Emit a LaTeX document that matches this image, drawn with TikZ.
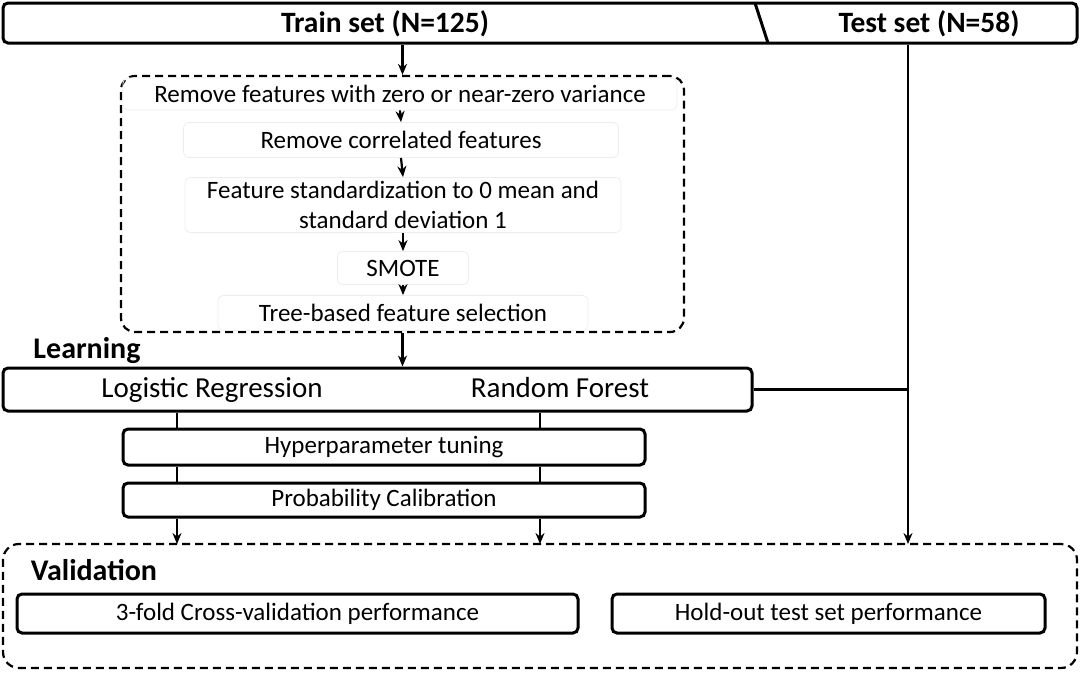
\documentclass[tikz,border=0pt]{standalone}
\usepackage{fontspec}
\setmainfont{Carlito}
\usetikzlibrary{arrows.meta}
\begin{document}
\begin{tikzpicture}[x=1pt,y=-1pt,
  bar/.style={draw,line width=3pt,rounded corners=5pt,inner sep=0pt},
  faint/.style={draw=black!7,line width=0.8pt,rounded corners=5pt,inner sep=0pt,align=center,font=\fontsize{25}{30}\selectfont},
  group/.style={draw,line width=2.2pt,dash pattern=on 8pt off 5pt,rounded corners=14pt,inner sep=0pt},
  title/.style={font=\fontsize{29.5}{34}\selectfont\bfseries},
  head/.style={font=\fontsize{30}{34}\selectfont\bfseries},
  txt/.style={font=\fontsize{25}{30}\selectfont},
  big/.style={font=\fontsize{29}{34}\selectfont,text height=19pt,text depth=6pt},
  arr/.style={line width=2.2pt,-{Stealth[length=11pt,width=9pt]}},
  link/.style={line width=2.2pt}]
\useasboundingbox (0,0) rectangle (1080,675);
\node[bar,minimum width=1074,minimum height=40] (data) at (540,23) {};
\draw[line width=3pt] (755,3) -- (768,43);
\node[title] (train) at (385,24) {Train set (N=125)};
\node[title] (test) at (929,24) {Test set (N=58)};

\node[group,minimum width=563,minimum height=256] (prep) at (402.5,204) {};
\node[faint,minimum width=554,minimum height=32] (r1) at (400,94) {Remove features with zero or near-zero variance};
\node[faint,minimum width=435,minimum height=35] (r2) at (401,140) {Remove correlated features};
\node[faint,minimum width=436,minimum height=55] (r3) at (403,205) {Feature standardization to 0 mean and\\standard deviation 1};
\node[faint,minimum width=131,minimum height=33] (r4) at (403,268) {SMOTE};
\node[faint,minimum width=370,minimum height=35] (r5) at (403,313) {Tree-based feature selection};
\draw[arr] (data.south -| prep.north) -- (prep.north);
\draw[arr] (r1.south) -- (r2.north);
\draw[arr] (r2.south) -- (r3.north);
\draw[arr] (r3.south) -- (r4.north);
\draw[arr] (r4.south) -- (r5.north);

\node[head] (learning) at (87,351) {Learning};
\node[bar,minimum width=749,minimum height=43] (learn) at (377.5,389.5) {};
\node[big] (lr) at (212,391) {Logistic Regression};
\node[big] (rf) at (560,391) {Random Forest};
\draw[arr] (prep.south) -- (prep.south |- learn.north);
\node[bar,txt,minimum width=522,minimum height=36] (hyper) at (384,447) {Hyperparameter tuning};
\node[bar,txt,minimum width=522,minimum height=34] (prob) at (384,500) {Probability Calibration};

\node[group,rounded corners=16pt,minimum width=1074,minimum height=124] (valid) at (540,606) {};
\coordinate (v1) at (177,544);
\coordinate (v2) at (540,544);
\coordinate (v3) at (908,544);
\foreach \v in {v1,v2} {
  \draw[link] (learn.south -| \v) -- (hyper.north -| \v);
  \draw[link] (hyper.south -| \v) -- (prob.north -| \v);
  \draw[arr] (prob.south -| \v) -- (\v);
}
\draw[arr] (data.south -| v3) -- (v3);
\draw[link] (learn.east) -- (learn.east -| v3);

\node[head] (validation) at (94,570) {Validation};
\node[bar,txt,minimum width=561,minimum height=39] (cv) at (297.5,613.5) {3-fold Cross-validation performance};
\node[bar,txt,minimum width=433,minimum height=39] (hold) at (828.5,613.5) {Hold-out test set performance};
\end{tikzpicture}
\end{document}
